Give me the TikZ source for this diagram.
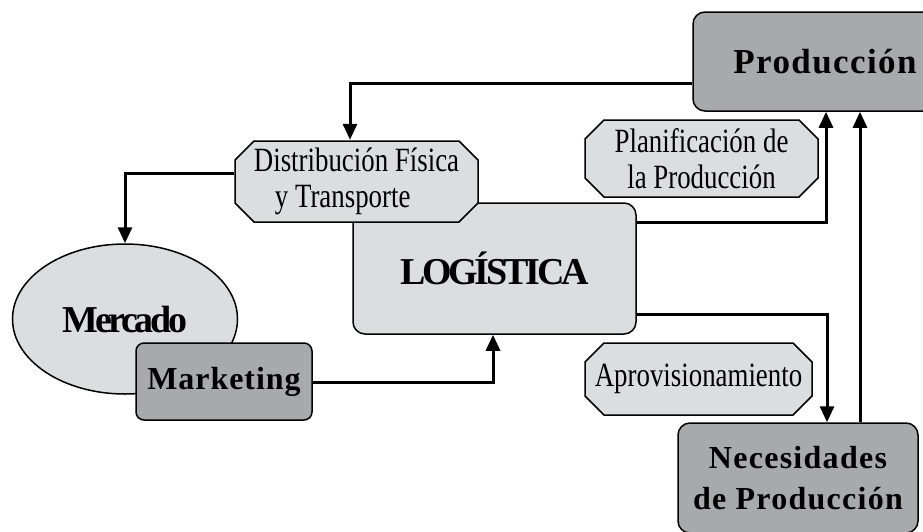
\documentclass[tikz,border=0pt]{standalone}
\usepackage{fontspec}
\setmainfont{Liberation Serif}
\usetikzlibrary{arrows.meta,shapes.geometric}
\definecolor{lightfill}{HTML}{DCDDDF}
\definecolor{darkfill}{HTML}{A8A9AB}
\newcommand{\fsz}[2]{\fontsize{#1pt}{#2pt}\selectfont}
\tikzset{
  base/.style={draw=black, line width=1.5pt, inner sep=0pt},
  lightbox/.style={base, fill=lightfill, rounded corners=12pt},
  darkbox/.style={base, fill=darkfill, rounded corners=12pt},
  % octagon with 20pt chamfers, drawn 1pt inside the node's rectangle
  octa/.style={inner sep=0pt, rectangle,
    path picture={
      \draw[line width=1.5pt, fill=lightfill]
        ([shift={(20pt,-1pt)}]path picture bounding box.north west) --
        ([shift={(-20pt,-1pt)}]path picture bounding box.north east) --
        ([shift={(-1pt,-20pt)}]path picture bounding box.north east) --
        ([shift={(-1pt,20pt)}]path picture bounding box.south east) --
        ([shift={(-20pt,1pt)}]path picture bounding box.south east) --
        ([shift={(20pt,1pt)}]path picture bounding box.south west) --
        ([shift={(1pt,20pt)}]path picture bounding box.south west) --
        ([shift={(1pt,-20pt)}]path picture bounding box.north west) -- cycle;
    }},
  conn/.style={line width=3pt, -{Triangle[length=16pt,width=14pt]}},
  spaced/.style={font=\fsz{32}{36}\bfseries\addfontfeature{LetterSpace=4}},
  tight/.style={font=\fsz{38}{42}\bfseries\addfontfeature{LetterSpace=-9}},
  plain/.style={font=\fsz{34}{36}\addfontfeature{FakeStretch=0.79}, align=center}
}
\begin{document}
\begin{tikzpicture}[x=1pt,y=-1pt]
  \useasboundingbox (0,0) rectangle (923,531);

  % boxes
  \node[darkbox, spaced, font=\fsz{35}{40}\bfseries\addfontfeature{LetterSpace=4},
        minimum width=264pt, minimum height=99pt] (prod) at (825,61.5) {Producción};
  \node[darkbox, spaced, minimum width=240pt, minimum height=110pt, align=center] (nec) at (798,478)
    {Necesidades\\[5pt]de Producción};
  \node[lightbox, tight, minimum width=283pt, minimum height=131pt] (logi) at (494.5,268.5) {LOGÍSTICA};
  \node[base, fill=lightfill, ellipse, tight, minimum width=225pt, minimum height=150pt] (merc) at (125,319) {Mercado};
  \node[darkbox, spaced, font=\fsz{32}{36}\bfseries\addfontfeature{LetterSpace=3},
        rounded corners=8pt, minimum width=176pt, minimum height=77pt] (mkt) at (224,381.5) {Marketing};

  % octagonal labels
  \node[octa, plain, align=left, minimum width=245pt, minimum height=83pt] (dist) at (356.5,181.5)
    {Distribución Física\\\hspace*{21pt}y Transporte};
  \node[octa, plain, minimum width=235pt, minimum height=79pt] (plan) at (701.5,158.5)
    {Planificación de\\la Producción};
  \node[octa, plain, minimum width=229pt, minimum height=74pt] (aprov) at (698.5,379) {Aprovisionamiento};

  % connectors
  \draw[conn] ([yshift=-21.5pt]prod.west) -| ([xshift=-6.5pt]dist.north);
  \draw[conn] ([yshift=8.5pt]dist.west) -| (merc.north);
  \draw[conn] ([yshift=-0.5pt]mkt.east) -| ([xshift=-1.5pt]logi.south);
  \draw[conn] ([yshift=46.5pt]logi.east) -| ([xshift=1pt]prod.south);
  \draw[conn] ([yshift=-45.5pt]logi.east) -| ([xshift=29pt]nec.north);
  \draw[conn] ([xshift=62pt]nec.north) -- ([xshift=35pt]prod.south);
\end{tikzpicture}
\end{document}
